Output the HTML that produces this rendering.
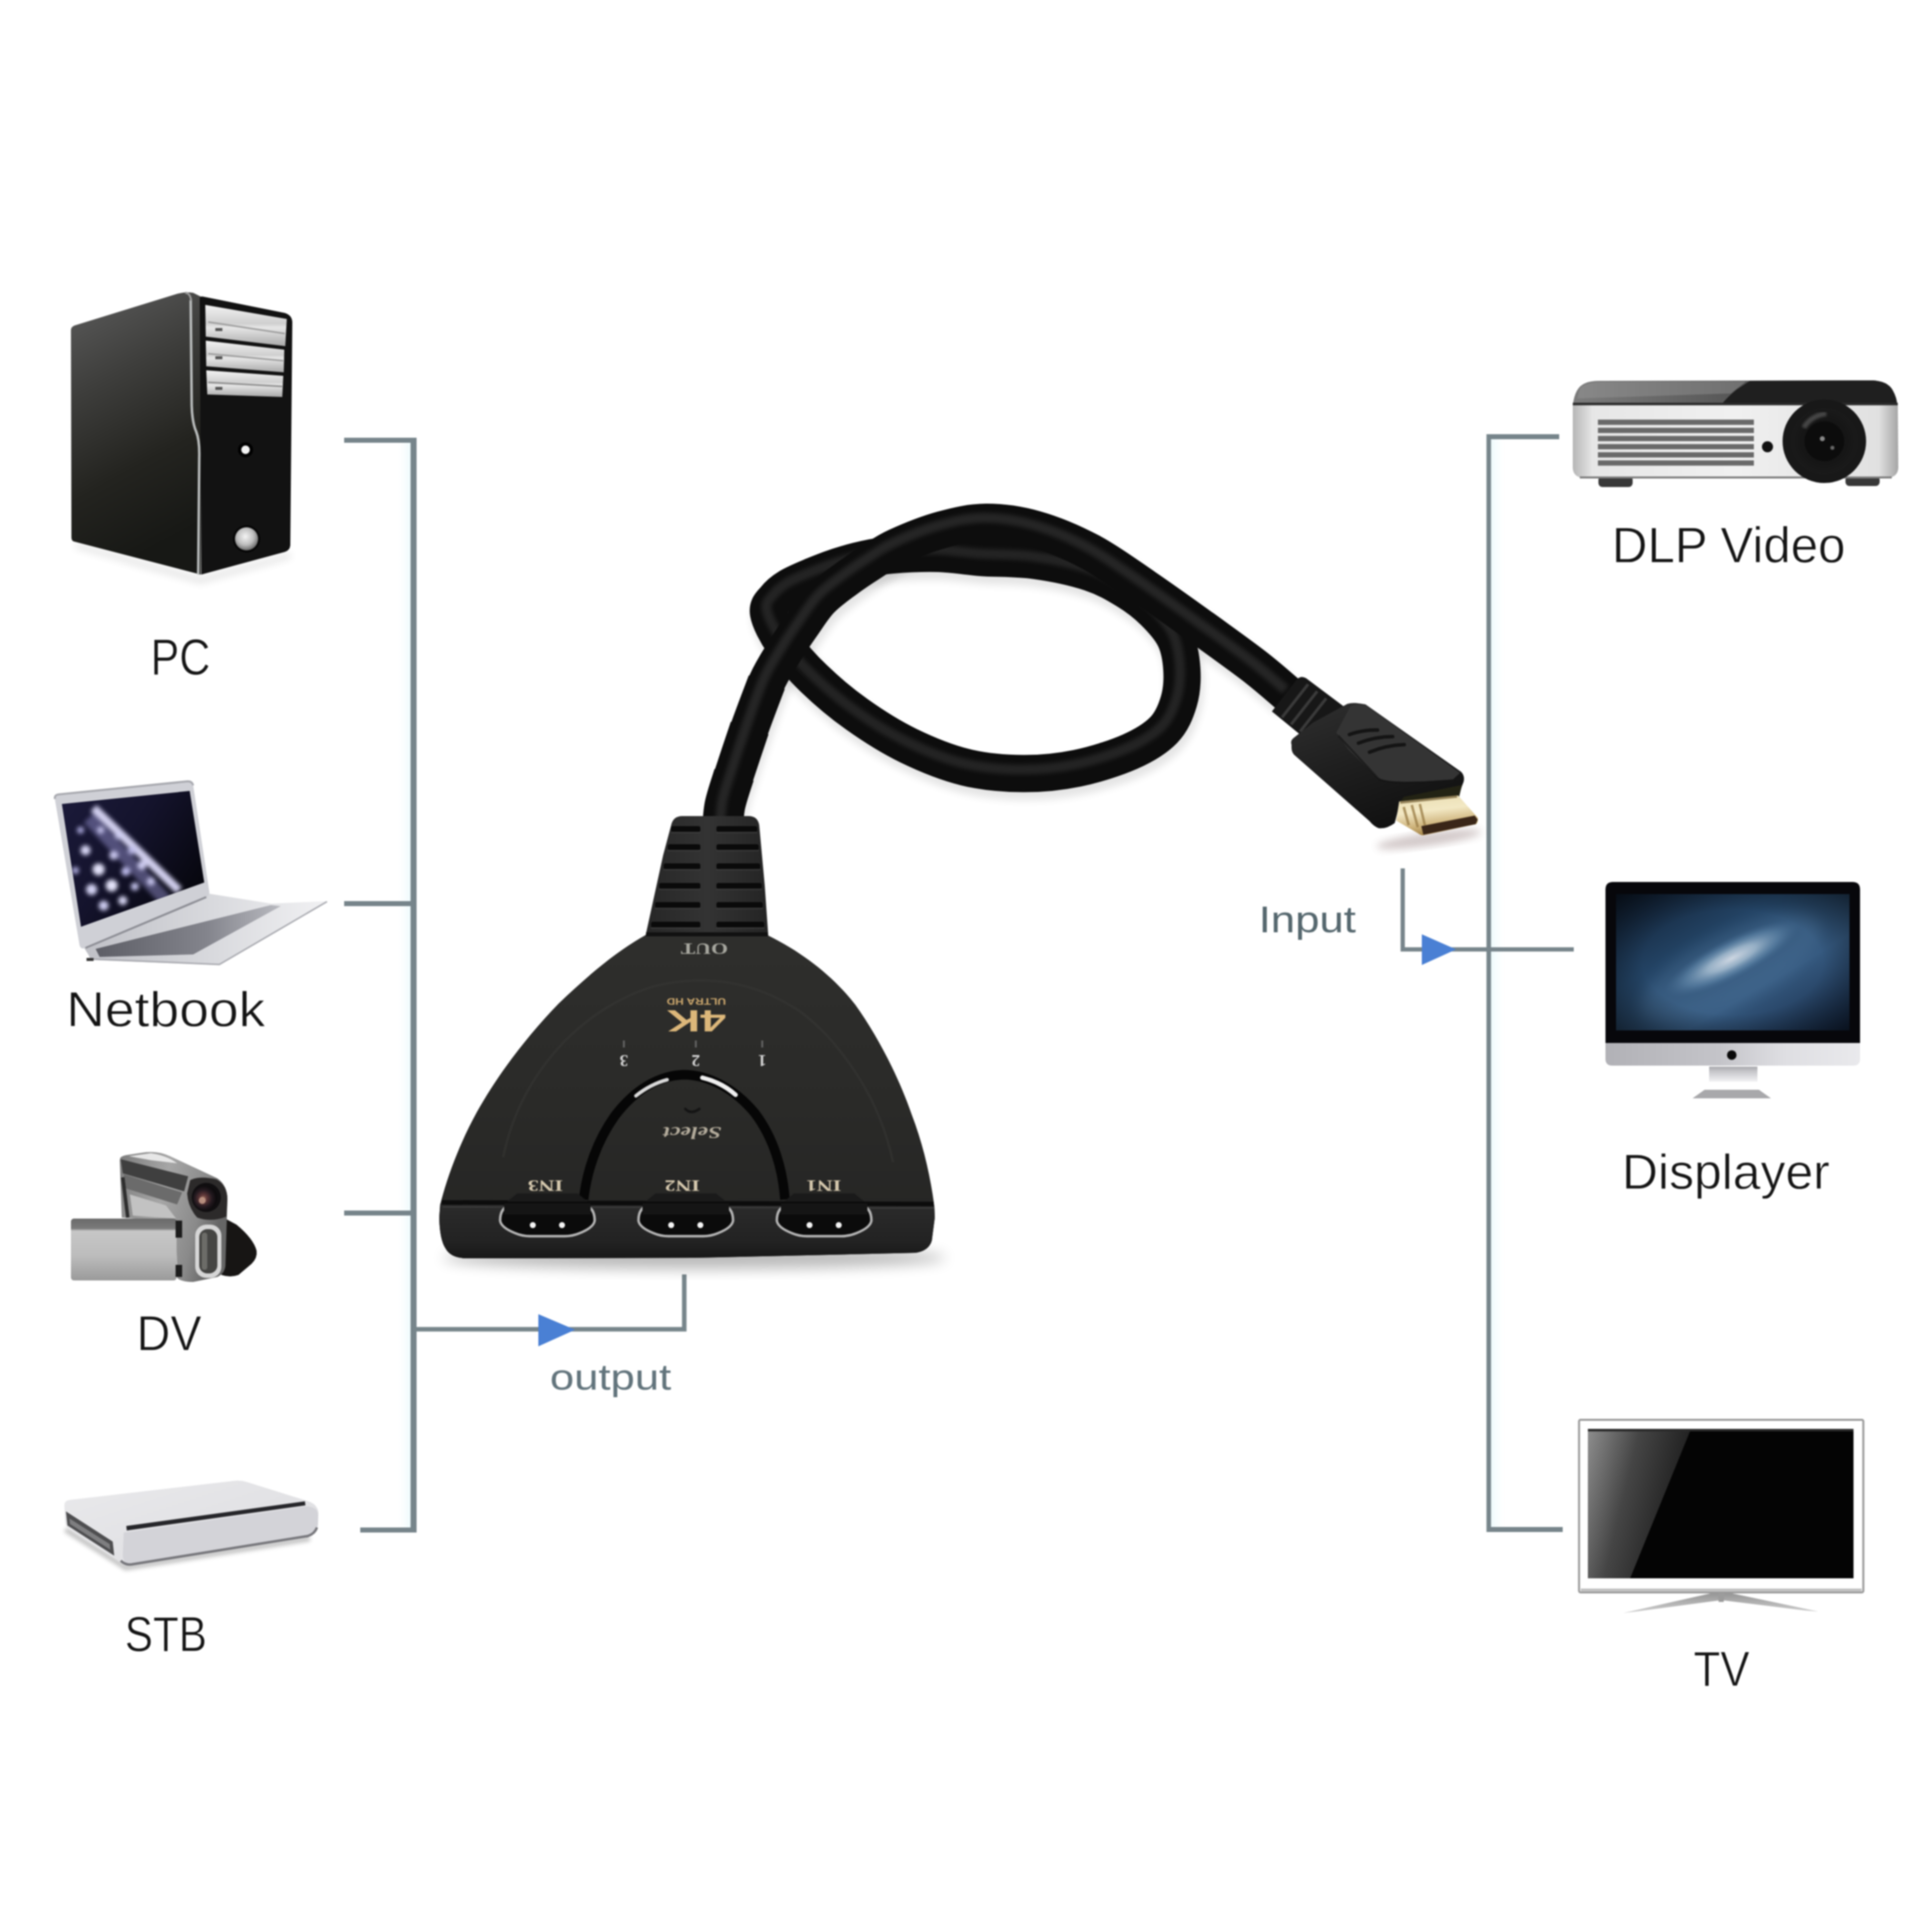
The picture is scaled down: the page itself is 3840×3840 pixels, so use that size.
<!DOCTYPE html>
<html lang="en"><head><meta charset="utf-8"><title>HDMI switch connection diagram</title>
<style>
html,body{margin:0;padding:0;background:#fff;}
body{width:3840px;height:3840px;overflow:hidden;}
svg{display:block;}
text{font-family:"Liberation Sans",sans-serif;}
.lbl{}
.ser{font-family:"Liberation Serif",serif;}
</style></head><body>
<svg width="3840" height="3840" viewBox="0 0 3840 3840">
<rect width="3840" height="3840" fill="#fff"/>
<defs><filter id="soft" color-interpolation-filters="sRGB" filterUnits="userSpaceOnUse" x="0" y="0" width="3840" height="3840"><feGaussianBlur stdDeviation="1.6"/></filter></defs>
<g filter="url(#soft)">
<!-- defs -->
<defs>
<filter id="b2" color-interpolation-filters="sRGB" x="-10%" y="-10%" width="120%" height="120%"><feGaussianBlur stdDeviation="2"/></filter>
<filter id="b4" color-interpolation-filters="sRGB" x="-20%" y="-20%" width="140%" height="140%"><feGaussianBlur stdDeviation="4"/></filter>
<filter id="b8" color-interpolation-filters="sRGB" x="-30%" y="-30%" width="160%" height="160%"><feGaussianBlur stdDeviation="8"/></filter>
<filter id="b14" color-interpolation-filters="sRGB" x="-30%" y="-50%" width="160%" height="200%"><feGaussianBlur stdDeviation="14"/></filter>
</defs>

<!-- lines -->
<defs>
<linearGradient id="haloL" x1="1" y1="0" x2="0" y2="0"><stop offset="0" stop-color="#ecfafc"/><stop offset="1" stop-color="#f6fdfe" stop-opacity="0"/></linearGradient>
<linearGradient id="haloR" x1="0" y1="0" x2="1" y2="0"><stop offset="0" stop-color="#ecfafc"/><stop offset="1" stop-color="#f6fdfe" stop-opacity="0"/></linearGradient>
</defs>
<!-- faint cyan halo on inside of brackets -->
<rect x="792" y="880" width="26" height="2156" fill="url(#haloL)"/>
<rect x="2962" y="873" width="28" height="2162" fill="url(#haloR)"/>
<g fill="none" stroke="#77858b" stroke-linejoin="miter">
<!-- left bracket -->
<path d="M822 870 V3046" stroke-width="12"/>
<path d="M684 875 H822 M684 1796 H822 M684 2411 H822 M716 3041 H822" stroke-width="10"/>
<!-- output -->
<path d="M822 2642 H1360 V2533" stroke-width="9"/>
<!-- right bracket -->
<path d="M2959 863 V3045" stroke-width="9"/>
<path d="M3099 868 H2959 M3106 3040 H2959" stroke-width="10"/>
<path d="M2788 1726 V1887 H3128" stroke-width="8.5"/>
</g>
<polygon points="1070,2612 1143,2643 1070,2676" fill="#4a80d4"/>
<polygon points="2826,1857 2894,1887 2826,1918" fill="#4a80d4"/>

<!-- pc -->
<defs>
<linearGradient id="pcSide" x1="0" y1="0" x2="0.25" y2="1">
<stop offset="0" stop-color="#5c5c5c"/><stop offset="0.35" stop-color="#3e3e3c"/><stop offset="0.7" stop-color="#23231f"/><stop offset="1" stop-color="#171815"/>
</linearGradient>
<linearGradient id="pcBay" x1="0" y1="0" x2="0" y2="1">
<stop offset="0" stop-color="#f2f2f2"/><stop offset="0.45" stop-color="#cfcfcf"/><stop offset="0.55" stop-color="#e6e6e6"/><stop offset="1" stop-color="#a9a9a9"/>
</linearGradient>
<radialGradient id="pcBtn" cx="0.45" cy="0.4" r="0.6">
<stop offset="0" stop-color="#f4f4f4"/><stop offset="0.6" stop-color="#bdbdbd"/><stop offset="1" stop-color="#6a6a6a"/>
</radialGradient>
</defs>
<g>
<!-- soft shadow -->
<path d="M150 1078 L398 1146 L578 1098 L578 1110 L398 1160 L150 1090 Z" fill="#000" opacity="0.10" filter="url(#b8)"/>
<!-- side face -->
<path d="M141 656 Q141 650 148 647 L352 584 Q368 579 384 582 L400 590 L399 1142 L146 1076 Q142 1074 142 1068 Z" fill="url(#pcSide)"/>
<!-- front face -->
<path d="M397 592 Q398 588 406 590 L566 622 Q580 626 581 640 L577 1084 Q576 1094 566 1097 L400 1142 Z" fill="#121212"/>
<!-- silver trim between side and front -->
<path d="M379 598 L381 806 Q382 840 390 858 Q397 876 396 910 L394 1140" fill="none" stroke="#b9bcbc" stroke-width="5" stroke-linecap="round"/>
<path d="M368 582 Q378 582 380 598" fill="none" stroke="#9a9a9a" stroke-width="4"/>
<!-- drive bays -->
<path d="M408 606 L570 634 L567 688 L409 669 Z" fill="url(#pcBay)"/>
<path d="M409 677 L565 695 L564 740 L410 728 Z" fill="url(#pcBay)"/>
<path d="M410 736 L563 747 L561 789 L412 784 Z" fill="url(#pcBay)"/>
<path d="M414 640 L566 663" stroke="#9c9c9c" stroke-width="3" fill="none"/>
<path d="M414 703 L563 717" stroke="#9c9c9c" stroke-width="3" fill="none"/>
<path d="M414 760 L561 768" stroke="#8a8a8a" stroke-width="3" fill="none"/>
<rect x="428" y="652" width="14" height="6" fill="#555"/><rect x="428" y="708" width="14" height="6" fill="#555"/><rect x="428" y="769" width="14" height="6" fill="#555"/>
<!-- led & button -->
<circle cx="488" cy="894" r="15" fill="#000"/><circle cx="488" cy="894" r="8.5" fill="#f2f2f2"/>
<circle cx="490" cy="1071" r="27" fill="#050505"/><circle cx="490" cy="1071" r="23" fill="url(#pcBtn)"/>
</g>

<!-- laptop -->
<defs>
<linearGradient id="lpScreen" x1="0" y1="0" x2="1" y2="0.6">
<stop offset="0" stop-color="#1b1a3a"/><stop offset="0.5" stop-color="#14132c"/><stop offset="1" stop-color="#07070f"/>
</linearGradient>
<linearGradient id="lpBase" x1="0" y1="0" x2="1" y2="0">
<stop offset="0" stop-color="#bfc0c6"/><stop offset="0.55" stop-color="#d9dade"/><stop offset="1" stop-color="#f1f1f3"/>
</linearGradient>
<linearGradient id="lpKb" x1="0" y1="0" x2="1" y2="0">
<stop offset="0" stop-color="#5d5e66"/><stop offset="0.6" stop-color="#83848c"/><stop offset="1" stop-color="#b9bac0"/>
</linearGradient>
<clipPath id="lpClip"><path d="M123 1598 L377 1572 L406 1754 L161 1842 Z"/></clipPath>
</defs>
<g>
<!-- base wedge -->
<path d="M176 1898 L166 1882 L414 1776 L539 1796 L650 1791 L436 1918 L180 1908 Z" fill="url(#lpBase)"/>
<path d="M190 1886 L538 1799 L558 1801 L384 1897 L198 1902 Z" fill="url(#lpKb)"/>
<path d="M178 1906 L436 1917 L650 1792" fill="none" stroke="#a9aab0" stroke-width="3"/>
<!-- lid -->
<path d="M109 1588 Q108 1580 116 1579 L372 1553 Q382 1552 384 1561 L416 1772 Q417 1780 410 1783 L170 1884 Q160 1888 158 1878 Z" fill="#cfd0d6"/>
<path d="M109 1588 Q108 1580 116 1579 L372 1553 Q382 1552 384 1561" fill="none" stroke="#a8a9af" stroke-width="4"/>
<!-- screen -->
<path d="M123 1598 L377 1572 L406 1754 L161 1842 Z" fill="url(#lpScreen)"/>
<g clip-path="url(#lpClip)">
<g filter="url(#b4)">
<path d="M186 1606 L356 1770" stroke="#dcdafa" stroke-width="17" fill="none" opacity="0.95"/>
<path d="M176 1626 L330 1790" stroke="#8f8cc8" stroke-width="26" fill="none" opacity="0.5"/><circle cx="282" cy="1720" r="9" fill="#cfcdf2"/><circle cx="300" cy="1752" r="8" fill="#c8c6ee"/><circle cx="262" cy="1690" r="8" fill="#bdbbe8"/><circle cx="200" cy="1650" r="7" fill="#c5c3ec"/>
<circle cx="170" cy="1690" r="10" fill="#d9d8f6"/><circle cx="196" cy="1728" r="12" fill="#e4e3fa"/><circle cx="226" cy="1700" r="9" fill="#c9c7ee"/>
<circle cx="182" cy="1768" r="11" fill="#d6d5f5"/><circle cx="222" cy="1760" r="12" fill="#e6e5fb"/><circle cx="250" cy="1732" r="9" fill="#bcbaea"/>
<circle cx="206" cy="1800" r="10" fill="#cfcef2"/><circle cx="244" cy="1790" r="9" fill="#dad9f6"/><circle cx="160" cy="1650" r="7" fill="#aeacdf"/>
<circle cx="268" cy="1762" r="8" fill="#c5c4ee"/><circle cx="150" cy="1730" r="7" fill="#b5b3e4"/><circle cx="236" cy="1660" r="8" fill="#d0cff3"/>
</g>
</g>
<!-- hinge shadow -->
<path d="M170 1884 L410 1783" stroke="#8d8e95" stroke-width="4" fill="none"/>
<rect x="172" y="1904" width="14" height="6" fill="#333"/>
</g>

<!-- dv -->
<defs>
<linearGradient id="dvLcd" x1="0" y1="0" x2="0" y2="1">
<stop offset="0" stop-color="#6a6a6a"/><stop offset="0.16" stop-color="#7a7a7a"/><stop offset="0.2" stop-color="#c6c6c6"/><stop offset="0.6" stop-color="#bcbcbc"/><stop offset="1" stop-color="#9a9a9a"/>
</linearGradient>
<linearGradient id="dvBody" x1="0" y1="0" x2="1" y2="0.3">
<stop offset="0" stop-color="#7c7c7c"/><stop offset="0.45" stop-color="#a6a6a6"/><stop offset="0.8" stop-color="#8a8a8a"/><stop offset="1" stop-color="#666"/>
</linearGradient>
<radialGradient id="dvLens" cx="0.42" cy="0.52" r="0.55">
<stop offset="0" stop-color="#9a6d5c"/><stop offset="0.3" stop-color="#5a3436"/><stop offset="0.65" stop-color="#241a20"/><stop offset="1" stop-color="#0c0a0c"/>
</radialGradient>
</defs>
<g>
<!-- strap / hood (black) -->
<path d="M444 2420 L470 2434 Q504 2462 510 2486 Q512 2500 500 2512 L474 2534 Q458 2540 440 2534 Z" fill="#171514"/>
<!-- body -->
<path d="M238 2306 Q238 2298 250 2296 L290 2290 Q318 2288 338 2298 L432 2342 Q452 2356 452 2384 L448 2516 Q446 2532 432 2538 L384 2548 Q360 2548 352 2540 L350 2428 L242 2420 Z" fill="url(#dvBody)"/>
<!-- top highlight -->
<path d="M256 2298 L300 2292 Q330 2296 352 2312 L300 2306 Z" fill="#efefef" opacity="0.9"/>
<!-- top dark panel -->
<path d="M240 2304 L374 2338 L366 2368 L244 2332 Z" fill="#3f3f3f"/>
<path d="M246 2334 L362 2370 L352 2394 L250 2362 Z" fill="#6b6b6b"/>
<!-- mid highlight -->
<path d="M258 2374 L330 2396 L350 2422 L264 2416 Z" fill="#c2c2c2"/>
<path d="M244 2340 L254 2420" stroke="#2e2e2e" stroke-width="7" fill="none"/>
<!-- dark lens housing -->
<path d="M378 2346 Q396 2336 430 2344 Q452 2356 452 2384 L450 2418 Q420 2430 392 2420 Q374 2400 372 2372 Z" fill="#2c2a2a"/>
<!-- lens -->
<circle cx="410" cy="2380" r="29" fill="#100e10"/>
<circle cx="408" cy="2381" r="24" fill="url(#dvLens)"/>
<circle cx="402" cy="2386" r="7" fill="#c39a88" opacity="0.85"/>
<!-- front silver ring + slot -->
<rect x="388" y="2434" width="52" height="106" rx="22" fill="#d6d6d6"/>
<rect x="396" y="2443" width="36" height="88" rx="16" fill="#454543"/>
<rect x="401" y="2450" width="11" height="74" rx="5" fill="#6c6c68"/>
<!-- LCD panel -->
<rect x="141" y="2422" width="210" height="123" rx="6" fill="url(#dvLcd)"/>
<rect x="349" y="2426" width="13" height="34" fill="#1c1c1c"/><rect x="349" y="2514" width="13" height="24" fill="#1c1c1c"/>
</g>

<!-- stb -->
<defs>
<linearGradient id="stbTop" x1="0" y1="0" x2="1" y2="1">
<stop offset="0" stop-color="#e9e9eb"/><stop offset="1" stop-color="#dcdce0"/>
</linearGradient>
</defs>
<g>
<path d="M130 3040 L250 3116 L616 3058" fill="none" stroke="#000" stroke-width="10" opacity="0.25" filter="url(#b4)"/>
<!-- whole silhouette -->
<path d="M128 2992 Q128 2982 140 2981 L468 2943 Q480 2942 492 2946 L616 2985 Q632 2992 633 3008 L632 3030 Q630 3048 612 3054 L262 3110 Q248 3112 238 3104 L136 3038 Q129 3032 129 3022 Z" fill="url(#stbTop)"/>
<!-- front face slightly darker -->
<path d="M246 3046 L612 2994 Q632 2996 632 3012 L632 3030 Q630 3048 612 3054 L262 3110 Q246 3110 244 3092 Z" fill="#d3d3d8"/>
<!-- left side dark -->
<path d="M131 3004 L224 3064 L227 3092 L134 3032 Z" fill="#4e4e50"/>
<path d="M138 3018 L218 3069 L219 3080 L139 3029 Z" fill="#7e7e80"/>
<!-- black slot -->
<path d="M251 3033 L606 2984 L607 2992 L252 3042 Z" fill="#26262a"/>
<path d="M240 3102 Q250 3112 264 3109 L612 3053 Q626 3048 630 3036" stroke="#77777c" stroke-width="5" fill="none"/>
</g>

<!-- cable -->
<g fill="none" stroke-linecap="butt" stroke-linejoin="round">
<path d="M1527.6 1219.0 C1524.8 1204.0 1534.3 1198.7 1541.0 1190.0 C1547.7 1181.3 1556.0 1174.3 1568.0 1167.0 C1580.0 1159.7 1596.7 1152.8 1613.0 1146.0 C1629.3 1139.2 1648.7 1131.7 1666.0 1126.0 C1683.3 1120.3 1699.2 1115.8 1717.0 1112.0 C1734.8 1108.2 1748.2 1105.0 1773.0 1103.0 C1797.8 1101.0 1836.5 1099.2 1866.0 1100.0 C1895.5 1100.8 1918.0 1105.7 1950.0 1108.0 C1982.0 1110.3 2021.8 1109.0 2058.0 1114.0 C2094.2 1119.0 2136.7 1128.0 2167.0 1138.0 C2197.3 1148.0 2218.8 1161.0 2240.0 1174.0 C2261.2 1187.0 2278.2 1200.3 2294.0 1216.0 C2309.8 1231.7 2325.8 1249.0 2335.0 1268.0 C2344.2 1287.0 2347.7 1309.0 2349.0 1330.0 C2350.3 1351.0 2349.0 1373.8 2343.0 1394.0 C2337.0 1414.2 2329.2 1434.3 2313.0 1451.0 C2296.8 1467.7 2274.7 1481.3 2246.0 1494.0 C2217.3 1506.7 2176.5 1519.7 2141.0 1527.0 C2105.5 1534.3 2070.0 1537.9 2033.0 1537.6 C1996.0 1537.3 1956.9 1534.3 1919.0 1525.0 C1881.1 1515.7 1841.5 1499.5 1805.5 1482.0 C1769.5 1464.5 1734.3 1442.0 1703.0 1419.7 C1671.7 1397.5 1641.8 1371.8 1617.6 1348.5 C1593.4 1325.2 1572.8 1301.6 1557.8 1280.0 C1542.8 1258.4 1530.4 1234.0 1527.6 1219.0 Z" stroke="#000" stroke-width="78" opacity="0.10" filter="url(#b8)" transform="translate(5,14)"/>
<path d="M1436.0 1650.0 C1436.8 1641.7 1437.2 1618.3 1441.0 1600.0 C1444.8 1581.7 1450.8 1565.5 1459.0 1540.0 C1467.2 1514.5 1479.2 1477.7 1490.0 1447.0 C1500.8 1416.3 1512.3 1381.7 1524.0 1356.0 C1535.7 1330.3 1548.3 1312.0 1560.0 1293.0 C1571.7 1274.0 1582.2 1258.8 1594.0 1242.0 C1605.8 1225.2 1616.7 1207.0 1631.0 1192.0 C1645.3 1177.0 1663.5 1164.3 1680.0 1152.0 C1696.5 1139.7 1713.0 1128.8 1730.0 1118.0 C1747.0 1107.2 1758.3 1097.8 1782.0 1087.0 C1805.7 1076.2 1842.3 1061.2 1872.0 1053.0 C1901.7 1044.8 1929.0 1038.2 1960.0 1038.0 C1991.0 1037.8 2023.5 1042.2 2058.0 1052.0 C2092.5 1061.8 2130.7 1077.7 2167.0 1097.0 C2203.3 1116.3 2239.7 1143.3 2276.0 1168.0 C2312.3 1192.7 2348.8 1219.0 2385.0 1245.0 C2421.2 1271.0 2463.8 1301.5 2493.0 1324.0 C2522.2 1346.5 2548.8 1370.7 2560.0 1380.0" stroke="#000" stroke-width="78" opacity="0.10" filter="url(#b8)" transform="translate(5,14)"/>
<path d="M1527.6 1219.0 C1524.8 1204.0 1534.3 1198.7 1541.0 1190.0 C1547.7 1181.3 1556.0 1174.3 1568.0 1167.0 C1580.0 1159.7 1596.7 1152.8 1613.0 1146.0 C1629.3 1139.2 1648.7 1131.7 1666.0 1126.0 C1683.3 1120.3 1699.2 1115.8 1717.0 1112.0 C1734.8 1108.2 1748.2 1105.0 1773.0 1103.0 C1797.8 1101.0 1836.5 1099.2 1866.0 1100.0 C1895.5 1100.8 1918.0 1105.7 1950.0 1108.0 C1982.0 1110.3 2021.8 1109.0 2058.0 1114.0 C2094.2 1119.0 2136.7 1128.0 2167.0 1138.0 C2197.3 1148.0 2218.8 1161.0 2240.0 1174.0 C2261.2 1187.0 2278.2 1200.3 2294.0 1216.0 C2309.8 1231.7 2325.8 1249.0 2335.0 1268.0 C2344.2 1287.0 2347.7 1309.0 2349.0 1330.0 C2350.3 1351.0 2349.0 1373.8 2343.0 1394.0 C2337.0 1414.2 2329.2 1434.3 2313.0 1451.0 C2296.8 1467.7 2274.7 1481.3 2246.0 1494.0 C2217.3 1506.7 2176.5 1519.7 2141.0 1527.0 C2105.5 1534.3 2070.0 1537.9 2033.0 1537.6 C1996.0 1537.3 1956.9 1534.3 1919.0 1525.0 C1881.1 1515.7 1841.5 1499.5 1805.5 1482.0 C1769.5 1464.5 1734.3 1442.0 1703.0 1419.7 C1671.7 1397.5 1641.8 1371.8 1617.6 1348.5 C1593.4 1325.2 1572.8 1301.6 1557.8 1280.0 C1542.8 1258.4 1530.4 1234.0 1527.6 1219.0 Z" stroke="#0d0d0d" stroke-width="74"/>
<path d="M1527.6 1219.0 C1524.8 1204.0 1534.3 1198.7 1541.0 1190.0 C1547.7 1181.3 1556.0 1174.3 1568.0 1167.0 C1580.0 1159.7 1596.7 1152.8 1613.0 1146.0 C1629.3 1139.2 1648.7 1131.7 1666.0 1126.0 C1683.3 1120.3 1699.2 1115.8 1717.0 1112.0 C1734.8 1108.2 1748.2 1105.0 1773.0 1103.0 C1797.8 1101.0 1836.5 1099.2 1866.0 1100.0 C1895.5 1100.8 1918.0 1105.7 1950.0 1108.0 C1982.0 1110.3 2021.8 1109.0 2058.0 1114.0 C2094.2 1119.0 2136.7 1128.0 2167.0 1138.0 C2197.3 1148.0 2218.8 1161.0 2240.0 1174.0 C2261.2 1187.0 2278.2 1200.3 2294.0 1216.0 C2309.8 1231.7 2325.8 1249.0 2335.0 1268.0 C2344.2 1287.0 2347.7 1309.0 2349.0 1330.0 C2350.3 1351.0 2349.0 1373.8 2343.0 1394.0 C2337.0 1414.2 2329.2 1434.3 2313.0 1451.0 C2296.8 1467.7 2274.7 1481.3 2246.0 1494.0 C2217.3 1506.7 2176.5 1519.7 2141.0 1527.0 C2105.5 1534.3 2070.0 1537.9 2033.0 1537.6 C1996.0 1537.3 1956.9 1534.3 1919.0 1525.0 C1881.1 1515.7 1841.5 1499.5 1805.5 1482.0 C1769.5 1464.5 1734.3 1442.0 1703.0 1419.7 C1671.7 1397.5 1641.8 1371.8 1617.6 1348.5 C1593.4 1325.2 1572.8 1301.6 1557.8 1280.0 C1542.8 1258.4 1530.4 1234.0 1527.6 1219.0 Z" stroke="#2a2a2a" stroke-width="20" opacity="0.8" filter="url(#b4)" transform="translate(-4,-8)"/>
<path d="M1436.0 1650.0 C1436.8 1641.7 1437.2 1618.3 1441.0 1600.0 C1444.8 1581.7 1456.0 1550.0 1459.0 1540.0" stroke="#0d0d0d" stroke-width="81"/>
<path d="M1436.0 1650.0 C1436.8 1641.7 1437.2 1618.3 1441.0 1600.0 C1444.8 1581.7 1450.8 1565.5 1459.0 1540.0 C1467.2 1514.5 1484.8 1462.5 1490.0 1447.0" stroke="#0d0d0d" stroke-width="79"/>
<path d="M1436.0 1650.0 C1436.8 1641.7 1437.2 1618.3 1441.0 1600.0 C1444.8 1581.7 1450.8 1565.5 1459.0 1540.0 C1467.2 1514.5 1479.2 1477.7 1490.0 1447.0 C1500.8 1416.3 1518.3 1371.2 1524.0 1356.0" stroke="#0d0d0d" stroke-width="76.5"/>
<path d="M1436.0 1650.0 C1436.8 1641.7 1437.2 1618.3 1441.0 1600.0 C1444.8 1581.7 1450.8 1565.5 1459.0 1540.0 C1467.2 1514.5 1479.2 1477.7 1490.0 1447.0 C1500.8 1416.3 1512.3 1381.7 1524.0 1356.0 C1535.7 1330.3 1548.3 1312.0 1560.0 1293.0 C1571.7 1274.0 1582.2 1258.8 1594.0 1242.0 C1605.8 1225.2 1616.7 1207.0 1631.0 1192.0 C1645.3 1177.0 1663.5 1164.3 1680.0 1152.0 C1696.5 1139.7 1713.0 1128.8 1730.0 1118.0 C1747.0 1107.2 1758.3 1097.8 1782.0 1087.0 C1805.7 1076.2 1842.3 1061.2 1872.0 1053.0 C1901.7 1044.8 1929.0 1038.2 1960.0 1038.0 C1991.0 1037.8 2023.5 1042.2 2058.0 1052.0 C2092.5 1061.8 2130.7 1077.7 2167.0 1097.0 C2203.3 1116.3 2239.7 1143.3 2276.0 1168.0 C2312.3 1192.7 2348.8 1219.0 2385.0 1245.0 C2421.2 1271.0 2463.8 1301.5 2493.0 1324.0 C2522.2 1346.5 2548.8 1370.7 2560.0 1380.0" stroke="#0d0d0d" stroke-width="74"/>
<path d="M1436.0 1650.0 C1436.8 1641.7 1437.2 1618.3 1441.0 1600.0 C1444.8 1581.7 1450.8 1565.5 1459.0 1540.0 C1467.2 1514.5 1479.2 1477.7 1490.0 1447.0 C1500.8 1416.3 1512.3 1381.7 1524.0 1356.0 C1535.7 1330.3 1548.3 1312.0 1560.0 1293.0 C1571.7 1274.0 1582.2 1258.8 1594.0 1242.0 C1605.8 1225.2 1616.7 1207.0 1631.0 1192.0 C1645.3 1177.0 1663.5 1164.3 1680.0 1152.0 C1696.5 1139.7 1713.0 1128.8 1730.0 1118.0 C1747.0 1107.2 1758.3 1097.8 1782.0 1087.0 C1805.7 1076.2 1842.3 1061.2 1872.0 1053.0 C1901.7 1044.8 1929.0 1038.2 1960.0 1038.0 C1991.0 1037.8 2023.5 1042.2 2058.0 1052.0 C2092.5 1061.8 2130.7 1077.7 2167.0 1097.0 C2203.3 1116.3 2239.7 1143.3 2276.0 1168.0 C2312.3 1192.7 2348.8 1219.0 2385.0 1245.0 C2421.2 1271.0 2463.8 1301.5 2493.0 1324.0 C2522.2 1346.5 2548.8 1370.7 2560.0 1380.0" stroke="#2c2c2c" stroke-width="20" opacity="0.8" filter="url(#b4)" transform="translate(-5,-9)"/>
</g>

<!-- switch -->
<defs>
<linearGradient id="swTop" x1="0" y1="0" x2="0" y2="1">
<stop offset="0" stop-color="#2e2e2c"/><stop offset="0.5" stop-color="#2a2a28"/><stop offset="1" stop-color="#242423"/>
</linearGradient>
<linearGradient id="swFront" x1="0" y1="0" x2="0" y2="1">
<stop offset="0" stop-color="#2b2b2b"/><stop offset="0.7" stop-color="#222"/><stop offset="1" stop-color="#181818"/>
</linearGradient>
<linearGradient id="swNeck" x1="0" y1="0" x2="1" y2="0">
<stop offset="0" stop-color="#262626"/><stop offset="0.5" stop-color="#333"/><stop offset="1" stop-color="#242424"/>
</linearGradient>
</defs>
<ellipse cx="1380" cy="2500" rx="500" ry="22" fill="#000" opacity="0.28" filter="url(#b14)"/>
<path d="M1284 1858 C1230 1888 1172 1935 1110 1995 C1048 2059 990 2135 948 2210 C915 2270 890 2335 875 2394 L873 2420 Q874 2465 886 2482 Q896 2500 926 2501 L1380 2500 L1820 2490 Q1846 2486 1852 2466 L1858 2420 L1857 2398 C1850 2340 1835 2275 1812 2215 C1786 2140 1745 2060 1700 1997 C1660 1945 1600 1895 1524 1858 Z" fill="url(#swTop)"/>
<path d="M875 2392 L1857 2396 L1858 2420 L1852 2466 Q1846 2486 1820 2490 L1380 2500 L926 2501 Q896 2500 886 2482 Q874 2465 873 2420 Z" fill="url(#swFront)"/>
<path d="M878 2390 L1856 2393" stroke="#0c0c0c" stroke-width="9" fill="none"/>
<path d="M880 2399 L1856 2401" stroke="#4a4a4a" stroke-width="2" fill="none" opacity="0.7"/>
<path d="M1000 2300 C1030 2150 1140 2010 1300 1960 C1400 1935 1500 1950 1590 2010 C1680 2080 1750 2190 1775 2310" fill="none" stroke="#3a3a38" stroke-width="5" opacity="0.45"/>
<path d="M1283 1860 L1318 1700 L1334 1640 Q1338 1622 1356 1622 L1488 1622 Q1506 1622 1509 1640 L1520 1760 L1527 1860 Z" fill="url(#swNeck)"/>
<rect x="1334" y="1642" width="58" height="12" rx="4" fill="#0a0a0a"/>
<rect x="1424" y="1642" width="81" height="12" rx="4" fill="#0a0a0a"/>
<rect x="1334" y="1653" width="58" height="3" fill="#444" opacity="0.6"/>
<rect x="1424" y="1653" width="81" height="3" fill="#444" opacity="0.6"/>
<rect x="1327" y="1678" width="65" height="12" rx="4" fill="#0a0a0a"/>
<rect x="1424" y="1678" width="84" height="12" rx="4" fill="#0a0a0a"/>
<rect x="1327" y="1689" width="65" height="3" fill="#444" opacity="0.6"/>
<rect x="1424" y="1689" width="84" height="3" fill="#444" opacity="0.6"/>
<rect x="1319" y="1716" width="73" height="12" rx="4" fill="#0a0a0a"/>
<rect x="1424" y="1716" width="87" height="12" rx="4" fill="#0a0a0a"/>
<rect x="1319" y="1727" width="73" height="3" fill="#444" opacity="0.6"/>
<rect x="1424" y="1727" width="87" height="3" fill="#444" opacity="0.6"/>
<rect x="1310" y="1755" width="82" height="12" rx="4" fill="#0a0a0a"/>
<rect x="1424" y="1755" width="90" height="12" rx="4" fill="#0a0a0a"/>
<rect x="1310" y="1766" width="82" height="3" fill="#444" opacity="0.6"/>
<rect x="1424" y="1766" width="90" height="3" fill="#444" opacity="0.6"/>
<rect x="1302" y="1793" width="90" height="12" rx="4" fill="#0a0a0a"/>
<rect x="1424" y="1793" width="92" height="12" rx="4" fill="#0a0a0a"/>
<rect x="1302" y="1804" width="90" height="3" fill="#444" opacity="0.6"/>
<rect x="1424" y="1804" width="92" height="3" fill="#444" opacity="0.6"/>
<rect x="1294" y="1832" width="98" height="12" rx="4" fill="#0a0a0a"/>
<rect x="1424" y="1832" width="95" height="12" rx="4" fill="#0a0a0a"/>
<rect x="1294" y="1843" width="98" height="3" fill="#444" opacity="0.6"/>
<rect x="1424" y="1843" width="95" height="3" fill="#444" opacity="0.6"/>
<path d="M1284 1857 L1526 1857" stroke="#111" stroke-width="8" fill="none"/>
<path d="M1160 2384 C1166 2330 1185 2270 1222 2218 C1262 2165 1310 2138 1358 2136 C1410 2136 1462 2166 1500 2212 C1538 2262 1556 2325 1560 2384" fill="none" stroke="#060606" stroke-width="19" stroke-linecap="butt"/>
<path d="M1264 2178 C1284 2162 1304 2152 1326 2146" fill="none" stroke="#d8d8d8" stroke-width="7" stroke-linecap="round"/>
<path d="M1396 2142 C1420 2148 1444 2160 1462 2176" fill="none" stroke="#efefef" stroke-width="9" stroke-linecap="round"/>
<path d="M1008 2388 L1028 2372 L1148 2372 L1168 2388 Z" fill="#1a1a1a"/><path d="M1016 2395 L1160 2395 Q1182 2399 1182 2426 Q1180 2440 1152 2451 Q1138 2457 1122 2457 L1054 2457 Q1038 2457 1024 2451 Q996 2440 994 2426 Q994 2399 1016 2395 Z" fill="#0b0b0b" stroke="#b4b4b4" stroke-width="5"/><rect x="1002" y="2392" width="172" height="22" fill="#151515"/><circle cx="1059" cy="2435" r="6" fill="#f4f4f4"/><circle cx="1117" cy="2435" r="6" fill="#f4f4f4"/>
<path d="M1283 2388 L1303 2372 L1423 2372 L1443 2388 Z" fill="#1a1a1a"/><path d="M1291 2395 L1435 2395 Q1457 2399 1457 2426 Q1455 2440 1427 2451 Q1413 2457 1397 2457 L1329 2457 Q1313 2457 1299 2451 Q1271 2440 1269 2426 Q1269 2399 1291 2395 Z" fill="#0b0b0b" stroke="#b4b4b4" stroke-width="5"/><rect x="1277" y="2392" width="172" height="22" fill="#151515"/><circle cx="1334" cy="2435" r="6" fill="#f4f4f4"/><circle cx="1392" cy="2435" r="6" fill="#f4f4f4"/>
<path d="M1558 2388 L1578 2372 L1698 2372 L1718 2388 Z" fill="#1a1a1a"/><path d="M1566 2395 L1710 2395 Q1732 2399 1732 2426 Q1730 2440 1702 2451 Q1688 2457 1672 2457 L1604 2457 Q1588 2457 1574 2451 Q1546 2440 1544 2426 Q1544 2399 1566 2395 Z" fill="#0b0b0b" stroke="#b4b4b4" stroke-width="5"/><rect x="1552" y="2392" width="172" height="22" fill="#151515"/><circle cx="1609" cy="2435" r="6" fill="#f4f4f4"/><circle cx="1667" cy="2435" r="6" fill="#f4f4f4"/>
<text class="ser" x="1400" y="1875" font-size="32" fill="#a7a79f" text-anchor="middle" transform="rotate(180 1400 1875)" font-weight="bold" textLength="94" lengthAdjust="spacingAndGlyphs">OUT</text>
<text class="lbl" x="1384" y="2008" font-size="62" fill="#dcb77a" text-anchor="middle" transform="rotate(180 1384 2008)" font-weight="bold" textLength="118" lengthAdjust="spacingAndGlyphs">4K</text>
<text class="lbl" x="1384" y="1984" font-size="19" fill="#c9a56c" text-anchor="middle" transform="rotate(180 1384 1984)" font-weight="bold" textLength="118" lengthAdjust="spacingAndGlyphs">ULTRA HD</text>
<text class="ser" x="1240" y="2097" font-size="34" fill="#d2d2d2" text-anchor="middle" transform="rotate(180 1240 2097)" font-weight="bold">3</text>
<rect x="1238" y="2068" width="4" height="14" fill="#777" opacity="0.7"/>
<text class="ser" x="1383" y="2097" font-size="34" fill="#d2d2d2" text-anchor="middle" transform="rotate(180 1383 2097)" font-weight="bold">2</text>
<rect x="1381" y="2068" width="4" height="14" fill="#777" opacity="0.7"/>
<text class="ser" x="1515" y="2097" font-size="34" fill="#d2d2d2" text-anchor="middle" transform="rotate(180 1515 2097)" font-weight="bold">1</text>
<rect x="1513" y="2068" width="4" height="14" fill="#777" opacity="0.7"/>
<text class="ser" x="1376" y="2240" font-size="34" fill="#b3ab9b" text-anchor="middle" transform="rotate(180 1376 2240)" font-style="italic" font-weight="bold" textLength="116" lengthAdjust="spacingAndGlyphs">Select</text>
<path d="M1362 2204 Q1374 2216 1390 2204" fill="none" stroke="#141414" stroke-width="5" stroke-linecap="round"/>
<text class="ser" x="1084" y="2346" font-size="31" fill="#d6c9ae" text-anchor="middle" transform="rotate(180 1084 2346)" font-weight="bold" textLength="70" lengthAdjust="spacingAndGlyphs">IN3</text>
<text class="ser" x="1356" y="2346" font-size="31" fill="#d6c9ae" text-anchor="middle" transform="rotate(180 1356 2346)" font-weight="bold" textLength="70" lengthAdjust="spacingAndGlyphs">IN2</text>
<text class="ser" x="1637" y="2346" font-size="31" fill="#d6c9ae" text-anchor="middle" transform="rotate(180 1637 2346)" font-weight="bold" textLength="70" lengthAdjust="spacingAndGlyphs">IN1</text>

<!-- plug -->
<defs>
<linearGradient id="plGold" x1="0" y1="0" x2="0.25" y2="1">
<stop offset="0" stop-color="#e9dcb0"/><stop offset="0.45" stop-color="#f2e8c4"/><stop offset="0.8" stop-color="#cdb27a"/><stop offset="1" stop-color="#a8884c"/>
</linearGradient>
<linearGradient id="plBody" x1="0" y1="0" x2="0.5" y2="1">
<stop offset="0" stop-color="#2f2f2f"/><stop offset="0.5" stop-color="#1f1f1f"/><stop offset="1" stop-color="#111"/>
</linearGradient>
</defs>
<g>
<!-- soft shadow under plug -->
<ellipse cx="2840" cy="1668" rx="105" ry="13" fill="#6a4a4a" opacity="0.30" filter="url(#b8)" transform="rotate(-8 2840 1668)"/>
<!-- strain relief (ribbed) -->
<path d="M2528 1414 L2578 1350 Q2586 1342 2596 1348 L2676 1408 L2606 1478 Z" fill="#171717"/>
<path d="M2548 1426 L2600 1360" stroke="#3a3a3a" stroke-width="6" fill="none"/>
<path d="M2566 1440 L2618 1374" stroke="#3a3a3a" stroke-width="6" fill="none"/>
<path d="M2584 1454 L2636 1388" stroke="#3a3a3a" stroke-width="6" fill="none"/>
<!-- body -->
<path d="M2567 1480 Q2564 1472 2572 1466 L2610 1436 L2678 1399 Q2690 1395 2714 1400 L2904 1534 Q2912 1542 2909 1554 L2899 1580 L2866 1578 L2782 1598 L2772 1636 Q2756 1648 2740 1646 Q2730 1642 2722 1632 L2572 1500 Q2567 1494 2567 1486 Z" fill="url(#plBody)"/>
<!-- top face lighter -->
<path d="M2656 1456 L2684 1404 Q2696 1398 2714 1402 L2902 1536 L2888 1549 Q2760 1560 2738 1546 L2680 1490 Z" fill="#343434"/>
<path d="M2660 1462 L2740 1548 Q2760 1562 2890 1551" fill="none" stroke="#151515" stroke-width="4" opacity="0.7"/>
<!-- grip ridges -->
<path d="M2682 1460 Q2710 1450 2738 1451" stroke="#141414" stroke-width="7" fill="none" stroke-linecap="round"/>
<path d="M2700 1477 Q2734 1464 2768 1464" stroke="#141414" stroke-width="7" fill="none" stroke-linecap="round"/>
<path d="M2722 1495 Q2756 1481 2791 1480" stroke="#141414" stroke-width="7" fill="none" stroke-linecap="round"/>
<!-- underside of front face -->
<path d="M2780 1598 L2900 1584 L2906 1560 L2790 1584 Z" fill="#232314"/>
<!-- gold tip -->
<path d="M2781 1593 L2898 1581 L2937 1625 Q2939 1632 2934 1638 L2830 1660 Q2824 1661 2818 1656 L2775 1631 Z" fill="url(#plGold)"/>
<path d="M2825 1642 L2931 1621 L2937 1629 L2933 1638 L2829 1659 Z" fill="#3a2618"/>
<path d="M2790 1604 L2800 1640 M2806 1600 L2818 1644 M2822 1598 L2832 1640" stroke="#9b7e48" stroke-width="5" fill="none" opacity="0.8"/>
<path d="M2783 1595 L2896 1583" stroke="#6e5a30" stroke-width="5" fill="none" opacity="0.7"/>
</g>

<!-- proj -->
<defs>
<linearGradient id="pjTopL" x1="0" y1="0" x2="1" y2="0"><stop offset="0" stop-color="#7c7c7c"/><stop offset="0.5" stop-color="#565656"/><stop offset="1" stop-color="#3c3c3c"/></linearGradient>
<linearGradient id="pjFront" x1="0" y1="0" x2="1" y2="0"><stop offset="0" stop-color="#b5b5b5"/><stop offset="0.06" stop-color="#e6e6e6"/><stop offset="0.5" stop-color="#f0f0f0"/><stop offset="0.94" stop-color="#e0e0e0"/><stop offset="1" stop-color="#a5a5a5"/></linearGradient>
<radialGradient id="pjLens" cx="0.5" cy="0.5" r="0.5"><stop offset="0" stop-color="#2a2a2a"/><stop offset="0.3" stop-color="#0a0a0a"/><stop offset="0.55" stop-color="#3a3a3a"/><stop offset="0.62" stop-color="#151515"/><stop offset="1" stop-color="#1a1a1a"/></radialGradient>
</defs>
<rect x="3177" y="946" width="68" height="22" rx="8" fill="#383838"/>
<rect x="3668" y="946" width="68" height="20" rx="8" fill="#383838"/>
<path d="M3126 806 Q3130 770 3150 762 Q3160 757 3180 757 L3720 756 Q3752 757 3762 776 Q3770 790 3771 806 Z" fill="url(#pjTopL)"/>
<path d="M3478 757 L3720 756 Q3752 757 3762 776 Q3770 790 3771 806 L3420 806 Q3432 790 3452 774 Z" fill="#1f1f1f"/>
<path d="M3140 772 Q3152 760 3180 759 L3470 758 L3440 782 L3135 792 Z" fill="#9a9a9a" opacity="0.4"/>
<path d="M3126 802 L3772 802 L3773 930 Q3772 948 3752 950 L3146 950 Q3127 948 3126 930 Z" fill="url(#pjFront)"/>
<path d="M3126 803 L3772 803" stroke="#2b2b2b" stroke-width="5" fill="none"/>
<path d="M3140 949 L3760 949" stroke="#7d7d7d" stroke-width="4" fill="none"/>
<rect x="3176" y="834.0" width="310" height="10.5" fill="#6a6a6a"/>
<rect x="3176" y="850.2" width="310" height="10.5" fill="#6a6a6a"/>
<rect x="3176" y="866.4" width="310" height="10.5" fill="#6a6a6a"/>
<rect x="3176" y="882.6" width="310" height="10.5" fill="#6a6a6a"/>
<rect x="3176" y="898.8" width="310" height="10.5" fill="#6a6a6a"/>
<rect x="3176" y="915.0" width="310" height="10.5" fill="#6a6a6a"/>
<circle cx="3513" cy="888" r="11" fill="#111"/>
<circle cx="3626" cy="877" r="83" fill="#181818"/>
<circle cx="3626" cy="877" r="66" fill="url(#pjLens)"/>
<circle cx="3626" cy="877" r="40" fill="#0c0c0c"/>
<path d="M3585 850 Q3600 826 3630 822" fill="none" stroke="#5a5a5a" stroke-width="10" opacity="0.7" filter="url(#b2)"/>
<circle cx="3622" cy="872" r="5" fill="#888"/><circle cx="3642" cy="890" r="4" fill="#666"/>

<!-- imac -->
<defs>
<linearGradient id="imBg" x1="0" y1="0" x2="1" y2="1"><stop offset="0" stop-color="#0f1d30"/><stop offset="0.35" stop-color="#234364"/><stop offset="0.65" stop-color="#35597f"/><stop offset="1" stop-color="#152844"/></linearGradient>
<radialGradient id="imGal" cx="0.5" cy="0.5" r="0.5"><stop offset="0" stop-color="#f4f2f4"/><stop offset="0.35" stop-color="#b9cbd9" stop-opacity="0.9"/><stop offset="0.7" stop-color="#6d93b4" stop-opacity="0.5"/><stop offset="1" stop-color="#3b5f85" stop-opacity="0"/></radialGradient>
<radialGradient id="imVig" cx="0.5" cy="0.5" r="0.7"><stop offset="0.55" stop-color="#000" stop-opacity="0"/><stop offset="1" stop-color="#000" stop-opacity="0.55"/></radialGradient>
<linearGradient id="imChin" x1="0" y1="0" x2="1" y2="0"><stop offset="0" stop-color="#b1b1b6"/><stop offset="0.45" stop-color="#c4c4c9"/><stop offset="0.7" stop-color="#dedee2"/><stop offset="1" stop-color="#e9e9ec"/></linearGradient>
<linearGradient id="imNeck" x1="0" y1="0" x2="0" y2="1"><stop offset="0" stop-color="#a9a9ad"/><stop offset="0.35" stop-color="#c8c8cc"/><stop offset="1" stop-color="#f2f2f4"/></linearGradient>
<clipPath id="imClip"><rect x="3212" y="1777" width="464" height="271"/></clipPath>
</defs>
<path d="M3191 2060 L3697 2060 L3697 2106 Q3696 2118 3684 2118 L3204 2118 Q3192 2118 3191 2106 Z" fill="url(#imChin)"/>
<path d="M3191 1768 Q3191 1753 3206 1753 L3682 1753 Q3697 1753 3697 1768 L3697 2073 L3191 2073 Z" fill="#07070b"/>
<rect x="3212" y="1777" width="464" height="271" fill="url(#imBg)"/>
<g clip-path="url(#imClip)"><ellipse cx="3442" cy="1905" rx="150" ry="40" fill="url(#imGal)" transform="rotate(-27 3442 1905)"/><ellipse cx="3440" cy="1925" rx="200" ry="70" fill="#5d86ad" opacity="0.25" transform="rotate(-27 3440 1925)" filter="url(#b14)"/><rect x="3212" y="1777" width="464" height="271" fill="url(#imVig)"/></g>
<circle cx="3442" cy="2097" r="9.5" fill="#0a0a0a"/>
<rect x="3397" y="2120" width="96" height="30" fill="url(#imNeck)"/>
<path d="M3388 2166 L3496 2166 L3520 2183 L3364 2183 Z" fill="#a8a8ab"/>

<!-- tv -->
<defs>
<linearGradient id="tvGlare" x1="0" y1="0" x2="1" y2="0.35"><stop offset="0" stop-color="#8e8e8e"/><stop offset="0.45" stop-color="#454545"/><stop offset="1" stop-color="#1a1a1a"/></linearGradient>
<linearGradient id="tvLeg" x1="0" y1="0" x2="0" y2="1"><stop offset="0" stop-color="#8c8c8c"/><stop offset="1" stop-color="#cfcfcf"/></linearGradient>
</defs>
<path d="M3421 3160 L3438 3166 L3614 3203 L3588 3201 L3426 3181 L3417 3181 L3252 3203 L3226 3206 L3404 3166 Z" fill="url(#tvLeg)"/>
<path d="M3414 3164 L3428 3164 L3426 3184 L3416 3184 Z" fill="#9c9c9c"/>
<rect x="3138.5" y="2822" width="565" height="343" rx="3" fill="#fff" stroke="#9a9a9a" stroke-width="4"/>
<path d="M3142 3160 L3700 3160" stroke="#bdbdbd" stroke-width="5"/>
<rect x="3156" y="2840" width="528" height="297" fill="#040404"/>
<path d="M3156 2840 L3361 2840 L3240 3137 L3156 3137 Z" fill="url(#tvGlare)"/>
<rect x="3156" y="2840" width="528" height="5" fill="#2a2a2a"/>

<!-- text -->
<text class="lbl" fill="#141414" stroke="#fff" stroke-width="1.3" font-size="102.6" transform="translate(299.2,1340.6) scale(0.8351,1)">PC</text>
<text class="lbl" fill="#141414" stroke="#fff" stroke-width="1.3" font-size="97.4" transform="translate(131.8,2040.0) scale(1.0907,1)">Netbook</text>
<text class="lbl" fill="#141414" stroke="#fff" stroke-width="1.3" font-size="98.1" transform="translate(271.6,2683.5) scale(0.9463,1)">DV</text>
<text class="lbl" fill="#141414" stroke="#fff" stroke-width="1.3" font-size="98.4" transform="translate(247.9,3281.5) scale(0.8531,1)">STB</text>
<text class="lbl" fill="#141414" stroke="#fff" stroke-width="1.3" font-size="101.0" transform="translate(3203.8,1118.0) scale(0.9687,1)">DLP Video</text>
<text class="lbl" fill="#141414" stroke="#fff" stroke-width="1.3" font-size="98.8" transform="translate(3223.8,2363.0) scale(1.0032,1)">Displayer</text>
<text class="lbl" fill="#141414" stroke="#fff" stroke-width="1.3" font-size="97.4" transform="translate(3366.0,3351.0) scale(0.8963,1)">TV</text>
<text class="lbl" fill="#55676e" font-size="73.5" transform="translate(2501.7,1852.6) scale(1.1819,1)">Input</text>
<text class="lbl" fill="#62747c" font-size="72.9" transform="translate(1093.0,2762.0) scale(1.1891,1)">output</text>

</g>
</svg>
</body></html>
